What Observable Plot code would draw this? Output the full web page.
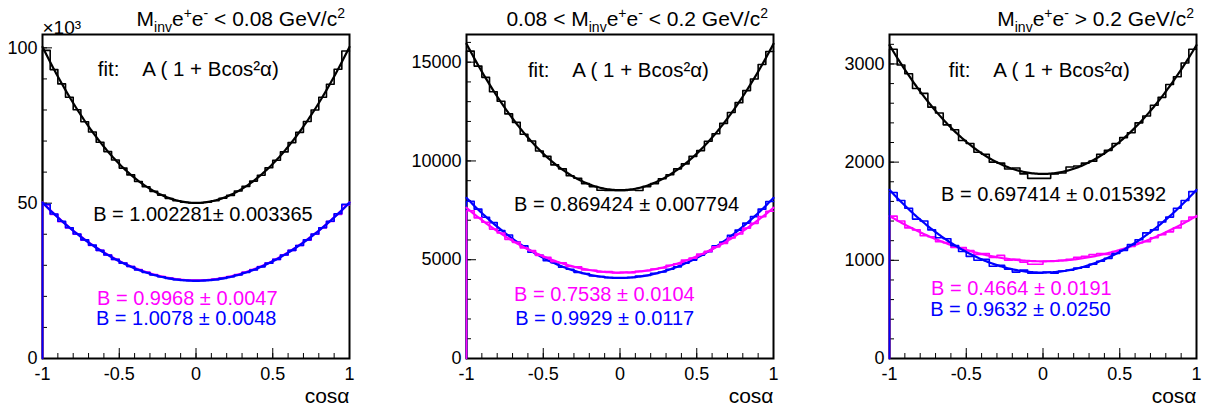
<!DOCTYPE html>
<html><head><meta charset="utf-8">
<script src="https://cdn.jsdelivr.net/npm/d3@7"></script>
<script src="https://cdn.jsdelivr.net/npm/@observablehq/plot@0.6"></script>
<style>
body{margin:0;background:#fff;font-family:"Liberation Sans",Arial,Helvetica,sans-serif;}
#wrap{position:relative;width:1217px;height:412px;overflow:hidden;background:#fff}
.panel{position:absolute;top:0}
.title{position:absolute;top:7px;font-size:21px;line-height:24px;white-space:nowrap;color:#000}
.title .sb{font-size:14px;position:relative;top:6px}
.title .sp{font-size:14px;position:relative;top:-8px}
</style></head><body><div id="wrap"></div>
<script>
// ---- bins (cos alpha), 40 bins of width 0.05 ----
const binLow = d3.range(40).map(i => -1 + i * 0.05);
const xMajor = [-1, -0.5, 0, 0.5, 1];
const xMinor = d3.range(-10, 11).map(i => i / 10);

// ---- panel 1 : M < 0.08 GeV/c2 (values in units of 10^3) ----
const black1 = [99.2, 93.0, 88.4, 84.1, 80.1, 76.2, 72.9, 69.6, 66.6, 63.9, 61.3, 59.1, 57.0, 55.3, 53.8, 52.6, 51.5, 50.8, 50.3, 50.1,
                50.1, 50.3, 50.8, 51.6, 52.5, 53.9, 55.4, 57.1, 59.0, 61.4, 63.8, 66.5, 69.5, 72.8, 76.3, 80.0, 84.1, 88.3, 93.1, 99.0];
const magenta1 = [49.4, 46.4, 44.0, 42.0, 40.0, 38.1, 36.4, 34.8, 33.3, 31.9, 30.7, 29.6, 28.6, 27.8, 27.0, 26.4, 25.9, 25.5, 25.3, 25.2,
                  25.2, 25.3, 25.5, 25.9, 26.4, 27.0, 27.8, 28.6, 29.6, 30.7, 31.9, 33.3, 34.8, 36.4, 38.1, 40.0, 42.0, 44.1, 46.4, 49.4];
const blue1 = [49.6, 46.5, 44.2, 42.1, 40.1, 38.2, 36.5, 34.8, 33.3, 31.9, 30.7, 29.6, 28.5, 27.7, 26.9, 26.3, 25.8, 25.4, 25.2, 25.1,
               25.1, 25.2, 25.4, 25.8, 26.3, 26.9, 27.7, 28.5, 29.5, 30.7, 31.9, 33.3, 34.8, 36.4, 38.2, 40.1, 42.1, 44.2, 46.6, 49.6];
const fitA1 = [50.1, 25.15, 25.0];           // black, magenta, blue
const fitB1 = [1.002281, 0.9968, 1.0078];

// ---- panel 2 : 0.08 < M < 0.2 GeV/c2 ----
const black2 = [15560, 14800, 14230, 13500, 13020, 12380, 11950, 11350, 11010, 10500, 10230, 9800, 9600, 9250, 9120, 8850, 8700, 8520, 8510, 8500,
                8510, 8530, 8500, 8700, 8850, 9100, 9300, 9600, 9850, 10230, 10520, 11000, 11380, 11900, 12450, 12950, 13560, 14150, 14880, 15540];
const magenta2 = [7480, 7120, 6900, 6550, 6350, 6030, 5880, 5600, 5470, 5220, 5120, 4900, 4850, 4660, 4640, 4480, 4470, 4380, 4400, 4330,
                  4360, 4340, 4420, 4440, 4530, 4580, 4720, 4790, 4980, 5080, 5290, 5420, 5650, 5820, 6100, 6300, 6600, 6840, 7180, 7450];
const blue2 = [7960, 7560, 7150, 6880, 6480, 6250, 5900, 5700, 5380, 5230, 4950, 4850, 4620, 4520, 4360, 4300, 4180, 4150, 4090, 4060,
               4080, 4100, 4170, 4200, 4310, 4380, 4520, 4640, 4830, 4980, 5230, 5400, 5700, 5900, 6230, 6500, 6850, 7180, 7560, 7950];
const fitA2 = [8520, 4350, 4080];
const fitB2 = [0.869424, 0.7538, 0.9929];

// ---- panel 3 : M > 0.2 GeV/c2 ----
const black3 = [3150, 2990, 2900, 2750, 2700, 2560, 2500, 2380, 2330, 2220, 2190, 2100, 2080, 2000, 1990, 1930, 1940, 1880, 1835, 1835,
                1835, 1880, 1890, 1950, 1960, 1990, 2010, 2080, 2120, 2190, 2250, 2300, 2400, 2470, 2580, 2660, 2790, 2870, 3010, 3150];
const magenta3 = [1450, 1400, 1330, 1310, 1250, 1240, 1190, 1180, 1130, 1130, 1100, 1060, 1070, 1030, 1050, 1000, 1010, 980, 960, 960,
                  990, 990, 1000, 1010, 1030, 1040, 1060, 1070, 1060, 1090, 1110, 1140, 1180, 1190, 1230, 1260, 1290, 1330, 1400, 1440];
const blue3 = [1690, 1610, 1530, 1420, 1400, 1310, 1230, 1220, 1150, 1090, 1040, 1000, 1010, 940, 950, 910, 880, 900, 870, 870,
               880, 870, 890, 900, 920, 930, 960, 990, 1020, 1070, 1100, 1160, 1210, 1280, 1310, 1390, 1440, 1530, 1610, 1700];
const fitA3 = [1880, 990, 875];
const fitB3 = [0.697414, 0.4664, 0.9632];

// ---- texts ----
const titles = [
  'M<span class="sb">inv</span>e<span class="sp">+</span>e<span class="sp">-</span> &lt; 0.08 GeV/c<span class="sp">2</span>',
  '0.08 &lt; M<span class="sb">inv</span>e<span class="sp">+</span>e<span class="sp">-</span> &lt; 0.2 GeV/c<span class="sp">2</span>',
  'M<span class="sb">inv</span>e<span class="sp">+</span>e<span class="sp">-</span> &gt; 0.2 GeV/c<span class="sp">2</span>'
];
const fitLabel = "fit:\u00a0\u00a0\u00a0\u00a0A (\u00a01 +\u00a0Bcos\u00b2\u03b1)";
const bLabels1 = ["B = 1.002281\u00b1 0.003365", "B = 0.9968 \u00b1 0.0047", "B = 1.0078 \u00b1 0.0048"];
const bLabels2 = ["B = 0.869424 \u00b1 0.007794", "B = 0.7538 \u00b1 0.0104", "B = 0.9929 \u00b1 0.0117"];
const bLabels3 = ["B = 0.697414 \u00b1 0.015392", "B = 0.4664 \u00b1 0.0191", "B = 0.9632 \u00b1 0.0250"];
const yMajor1 = [0, 50, 100], yMinor1 = d3.range(0, 101, 10);
const yMajor2 = [0, 5000, 10000, 15000], yMinor2 = d3.range(0, 16001, 1000);
const yMajor3 = [0, 1000, 2000, 3000], yMinor3 = d3.range(0, 3201, 200);

const COLORS = ["#000000", "#ff00ff", "#0000ff"];
const FONT = "Liberation Sans, Arial, Helvetica, sans-serif";

function stepData(vals) {
  const pts = [{x: -1, y: 0}];
  vals.forEach((v, i) => pts.push({x: binLow[i], y: v}));
  pts.push({x: 1, y: vals[vals.length - 1]});
  return pts;
}
const fitX = d3.range(0, 201).map(i => -1 + i * 0.01);

function panel(cfg) {
  const hists = [cfg.black, cfg.magenta, cfg.blue];
  const marks = [
    Plot.frame({stroke: "black", strokeWidth: 2}),
    Plot.axisX(xMajor, {tickSize: -10, fill: "none", label: null}),
    Plot.axisX(xMinor, {tickSize: -5, fill: "none", label: null}),
    Plot.axisX(xMajor, {tickSize: 0, stroke: "none", tickPadding: 9, fontSize: 18, tickFormat: d => String(d), label: null}),
    Plot.axisY(cfg.yMajor, {tickSize: -10, fill: "none", label: null}),
    Plot.axisY(cfg.yMinor, {tickSize: -5, fill: "none", label: null}),
    Plot.axisY(cfg.yMajor, {tickSize: 0, stroke: "none", tickPadding: 5, fontSize: 18, tickFormat: d => String(d), label: null})
  ];
  for (const i of cfg.order) {
    marks.push(Plot.line(stepData(hists[i]), {x: "x", y: "y", curve: "step-after", stroke: COLORS[i], strokeWidth: 1.6}));
    const A = cfg.fitA[i], B = cfg.fitB[i];
    marks.push(Plot.line(fitX, {x: d => d, y: d => A * (1 + B * d * d), stroke: COLORS[i], strokeWidth: 2.2}));
  }
  marks.push(Plot.text([fitLabel], {x: cfg.fitPos[0], y: cfg.fitPos[1], text: d => d, textAnchor: "start", fontSize: 20.5, fill: "black"}));
  cfg.labels.forEach((t, i) => {
    marks.push(Plot.text([t], {x: cfg.labelPos[i][0], y: cfg.labelPos[i][1], text: d => d, textAnchor: "start", fontSize: 20, fill: COLORS[i]}));
  });
  marks.push(Plot.text(["cos\u03b1"], {frameAnchor: "bottom-right", dy: 44, text: d => d, textAnchor: "end", fontSize: 21, fill: "black"}));
  if (cfg.exp) marks.push(Plot.text([cfg.exp], {frameAnchor: "top-left", dy: -1, dx: 0, text: d => d, textAnchor: "start", lineAnchor: "bottom", fontSize: 19, fill: "black"}));
  return Plot.plot({
    width: 400, height: 412,
    marginLeft: cfg.ml, marginRight: 400 - cfg.ml - 307, marginTop: 34, marginBottom: 54,
    x: {domain: [-1, 1]},
    y: {domain: cfg.ydom},
    style: {fontFamily: FONT, background: "transparent", color: "black", overflow: "visible"},
    marks
  });
}

const panels = [
  {left: 0, ml: 42, ydom: [0, 104.3], black: black1, magenta: magenta1, blue: blue1, fitA: fitA1, fitB: fitB1,
   order: [0, 1, 2], yMajor: yMajor1, yMinor: yMinor1, labels: bLabels1, exp: "\u00d710\u00b3",
   fitPos: [-0.64, 93.0], labelPos: [[-0.67, 46.4], [-0.645, 19.2], [-0.652, 12.7]], titleRight: 872},
  {left: 400, ml: 66, ydom: [0, 16400], black: black2, magenta: magenta2, blue: blue2, fitA: fitA2, fitB: fitB2,
   order: [0, 2, 1], yMajor: yMajor2, yMinor: yMinor2, labels: bLabels2,
   fitPos: [-0.60, 14575], labelPos: [[-0.69, 7790], [-0.69, 3220], [-0.683, 2000]], titleRight: 449},
  {left: 817, ml: 72, ydom: [0, 3300], black: black3, magenta: magenta3, blue: blue3, fitA: fitA3, fitB: fitB3,
   order: [0, 1, 2], yMajor: yMajor3, yMinor: yMinor3, labels: bLabels3,
   fitPos: [-0.614, 2934], labelPos: [[-0.664, 1671], [-0.729, 708], [-0.735, 494]], titleRight: 23}
];

const wrap = document.getElementById("wrap");
panels.forEach((cfg, k) => {
  const d = document.createElement("div");
  d.className = "panel";
  d.style.left = cfg.left + "px";
  d.appendChild(panel(cfg));
  wrap.appendChild(d);
  const t = document.createElement("div");
  t.className = "title";
  t.style.right = cfg.titleRight + "px";
  t.innerHTML = titles[k];
  wrap.appendChild(t);
});
</script></body></html>
